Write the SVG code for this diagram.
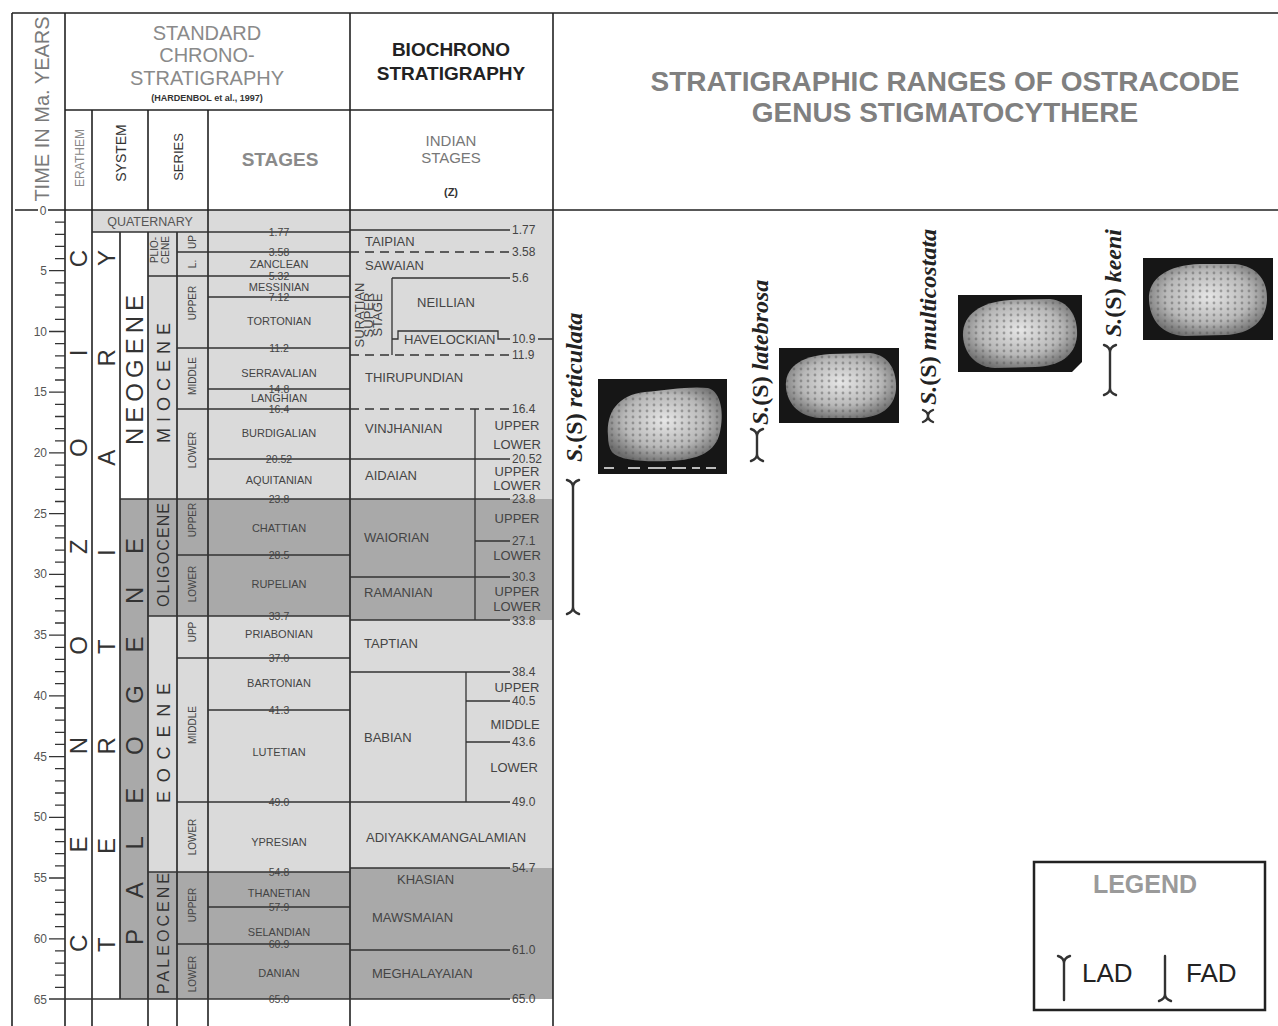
<svg xmlns="http://www.w3.org/2000/svg" width="1278" height="1026" viewBox="0 0 1278 1026">
<defs>
<style>
.ln{stroke:#333;stroke-width:1.3;fill:none}
.bd{stroke:#222;stroke-width:1.6;fill:none}
.dsh{stroke:#333;stroke-width:1.4;fill:none;stroke-dasharray:9 6}
.num{font-family:"Liberation Sans",Arial,sans-serif;font-size:10.5px;fill:#444;text-anchor:middle}
.inum{font-family:"Liberation Sans",Arial,sans-serif;font-size:12px;fill:#444}
.tnum{font-family:"Liberation Sans",Arial,sans-serif;font-size:12px;fill:#555;text-anchor:end}
.stg{font-family:"Liberation Sans",Arial,sans-serif;font-size:11px;fill:#444;text-anchor:middle}
.ind{font-family:"Liberation Sans",Arial,sans-serif;font-size:13px;fill:#444}
.sub{font-family:"Liberation Sans",Arial,sans-serif;font-size:13px;fill:#444;text-anchor:middle}
.ser{font-family:"Liberation Sans",Arial,sans-serif;font-size:10px;fill:#444;text-anchor:middle}
.big{font-family:"Liberation Sans",Arial,sans-serif;font-size:24px;fill:#333}
.mid{font-family:"Liberation Sans",Arial,sans-serif;fill:#333}
.hdr{font-family:"Liberation Sans",Arial,sans-serif;text-anchor:middle}
.sp{font-family:"Liberation Serif","Times New Roman",serif;font-size:24px;font-weight:bold;font-style:italic;fill:#222}
.rng{stroke:#333;stroke-width:2.4;fill:none;stroke-linecap:round}
.light{fill:#dadada}
.dark{fill:#a9a9a9}
.photo{fill:#161616}
.shell{fill:url(#shellG)}
.pits{fill:url(#pits)}
</style>
<radialGradient id="shellG" cx="0.5" cy="0.45" r="0.6">
<stop offset="0" stop-color="#e6e6e6"/>
<stop offset="0.6" stop-color="#b8b8b8"/>
<stop offset="1" stop-color="#6a6a6a"/>
</radialGradient>
<pattern id="pits" width="7" height="6" patternUnits="userSpaceOnUse">
<circle cx="3" cy="3" r="1.4" fill="#555" fill-opacity="0.45"/>
</pattern>
</defs>
<rect width="1278" height="1026" fill="#fff"/>

<g id="fills">
<rect class="light" x="92" y="210" width="56" height="22"/>
<rect class="light" x="148" y="210" width="405" height="289"/>
<rect class="dark" x="148" y="499" width="202" height="117"/>
<rect class="dark" x="350" y="499" width="203" height="121"/>
<rect class="light" x="148" y="616" width="202" height="256"/>
<rect class="light" x="350" y="620" width="203" height="248"/>
<rect class="dark" x="148" y="872" width="202" height="127"/>
<rect class="dark" x="350" y="868" width="203" height="131"/>
<rect class="dark" x="120" y="499" width="28" height="500"/>
</g>

<g id="frame">
<path class="bd" d="M12 13H1278M12 13V1026M65 13V1026M350 13V1026M553 13V1026M65 110H553M92 110V1026M148 110V210M148 232V1026M208 110V1026M177 232V1026M120 232V999M15 210H38M48 210H1278"/>
</g>

<g id="header">
<text class="hdr" transform="translate(49,109) rotate(-90)" font-size="20" fill="#7a7a7a">TIME IN Ma. YEARS</text>
<text class="hdr" x="207" y="40" font-size="20" fill="#8a8a8a">STANDARD</text>
<text class="hdr" x="207" y="62" font-size="20" fill="#8a8a8a">CHRONO-</text>
<text class="hdr" x="207" y="85" font-size="20" fill="#8a8a8a">STRATIGRAPHY</text>
<text class="hdr" x="207" y="101" font-size="9" font-weight="bold" fill="#333">(HARDENBOL et al., 1997)</text>
<text class="hdr" x="451" y="56" font-size="19" font-weight="bold" fill="#222">BIOCHRONO</text>
<text class="hdr" x="451" y="80" font-size="19" font-weight="bold" fill="#222">STRATIGRAPHY</text>
<text class="hdr" transform="translate(83.5,158) rotate(-90)" font-size="12" fill="#888">ERATHEM</text>
<text class="hdr" transform="translate(126,153) rotate(-90)" font-size="14" fill="#333">SYSTEM</text>
<text class="hdr" transform="translate(183,157) rotate(-90)" font-size="13" fill="#333">SERIES</text>
<text class="hdr" x="280" y="166" font-size="19" font-weight="bold" fill="#8a8a8a">STAGES</text>
<text class="hdr" x="451" y="146" font-size="15" fill="#777">INDIAN</text>
<text class="hdr" x="451" y="163" font-size="15" fill="#777">STAGES</text>
<text class="hdr" x="451" y="196" font-size="11" font-weight="bold" fill="#333">(Z)</text>
<text class="hdr" x="945" y="91" font-size="28" font-weight="bold" fill="#808080">STRATIGRAPHIC RANGES OF OSTRACODE</text>
<text class="hdr" x="945" y="122" font-size="28" font-weight="bold" fill="#808080">GENUS STIGMATOCYTHERE</text>
</g>

<g id="time-axis">
<path class="ln" d="M55 222.2H65M55 234.3H65M55 246.4H65M55 258.6H65M55 282.9H65M55 295H65M55 307.2H65M55 319.3H65M55 343.6H65M55 355.8H65M55 367.9H65M55 380H65M55 404.3H65M55 416.5H65M55 428.6H65M55 440.8H65M55 465.1H65M55 477.2H65M55 489.4H65M55 501.5H65M55 525.8H65M55 537.9H65M55 550.1H65M55 562.2H65M55 586.5H65M55 598.7H65M55 610.8H65M55 623H65M55 647.3H65M55 659.4H65M55 671.6H65M55 683.7H65M55 708H65M55 720.1H65M55 732.3H65M55 744.4H65M55 768.7H65M55 780.9H65M55 793H65M55 805.2H65M55 829.5H65M55 841.6H65M55 853.7H65M55 865.9H65M55 890.2H65M55 902.3H65M55 914.5H65M55 926.6H65M55 950.9H65M55 963.1H65M55 975.2H65M55 987.3H65"/>
<path class="ln" d="M49 270.7H65M49 331.5H65M49 392.2H65M49 452.9H65M49 513.7H65M49 574.4H65M49 635.1H65M49 695.8H65M49 756.6H65M49 817.3H65M49 878H65M49 938.8H65"/>
<text class="tnum" x="43" y="214.5" style="text-anchor:middle">0</text>
<text class="tnum" x="47" y="274.7">5</text>
<text class="tnum" x="47" y="335.5">10</text>
<text class="tnum" x="47" y="396.2">15</text>
<text class="tnum" x="47" y="456.9">20</text>
<text class="tnum" x="47" y="517.7">25</text>
<text class="tnum" x="47" y="578.4">30</text>
<text class="tnum" x="47" y="639.1">35</text>
<text class="tnum" x="47" y="699.8">40</text>
<text class="tnum" x="47" y="760.6">45</text>
<text class="tnum" x="47" y="821.3">50</text>
<text class="tnum" x="47" y="882">55</text>
<text class="tnum" x="47" y="942.8">60</text>
<text class="tnum" x="47" y="1003.5">65</text>
</g>

<g id="erathem-system">
<text class="big" transform="translate(87,952) rotate(-90)" textLength="702" lengthAdjust="spacing">CENOZOIC</text>
<text class="big" transform="translate(115,952) rotate(-90)" textLength="702" lengthAdjust="spacing">TERTIARY</text>
<text class="hdr" x="150" y="226" font-size="12.5" fill="#555">QUATERNARY</text>
<text class="big" transform="translate(143,445) rotate(-90)" textLength="150" lengthAdjust="spacing">NEOGENE</text>
<text class="big" transform="translate(143,945) rotate(-90)" textLength="407" lengthAdjust="spacing">PALEOGENE</text>
</g>

<g id="series">
<text class="ser" transform="translate(157.6,250) rotate(-90)">PLIO-</text>
<text class="ser" transform="translate(168.6,250) rotate(-90)">CENE</text>
<text class="mid" font-size="18" transform="translate(169.5,443) rotate(-90)" textLength="120" lengthAdjust="spacing">MIOCENE</text>
<text class="mid" font-size="16" transform="translate(168.7,607) rotate(-90)" textLength="104" lengthAdjust="spacing">OLIGOCENE</text>
<text class="mid" font-size="18" transform="translate(169.5,803) rotate(-90)" textLength="120" lengthAdjust="spacing">EOCENE</text>
<text class="mid" font-size="16" transform="translate(168.7,994) rotate(-90)" textLength="121" lengthAdjust="spacing">PALEOCENE</text>
<text class="ser" transform="translate(196,242) rotate(-90)">UP</text>
<text class="ser" transform="translate(196,264) rotate(-90)">L.</text>
<text class="ser" transform="translate(196,303) rotate(-90)">UPPER</text>
<text class="ser" transform="translate(196,376) rotate(-90)">MIDDLE</text>
<text class="ser" transform="translate(196,450) rotate(-90)">LOWER</text>
<text class="ser" transform="translate(196,520) rotate(-90)">UPPER</text>
<text class="ser" transform="translate(196,584) rotate(-90)">LOWER</text>
<text class="ser" transform="translate(196,632) rotate(-90)">UPP</text>
<text class="ser" transform="translate(196,725) rotate(-90)">MIDDLE</text>
<text class="ser" transform="translate(196,837) rotate(-90)">LOWER</text>
<text class="ser" transform="translate(196,905) rotate(-90)">UPPER</text>
<text class="ser" transform="translate(196,974) rotate(-90)">LOWER</text>
</g>

<g id="stage-lines">
<path class="ln" d="M92 232H350M177 252H350M148 276H350M208 297H350M177 348H350M208 389H350M177 409H350M208 459H510M120 499H350M177 555H350M148 616H350M177 658H350M208 710H350M177 802H510M148 872H350M208 907H350M177 944H350M49 999H510"/>
<text class="num" x="279" y="235.5">1.77</text>
<text class="num" x="279" y="255.5">3.58</text>
<text class="stg" x="279" y="268">ZANCLEAN</text>
<text class="num" x="279" y="279.5">5.32</text>
<text class="stg" x="279" y="291">MESSINIAN</text>
<text class="num" x="279" y="300.5">7.12</text>
<text class="stg" x="279" y="325">TORTONIAN</text>
<text class="num" x="279" y="351.5">11.2</text>
<text class="stg" x="279" y="377">SERRAVALIAN</text>
<text class="num" x="279" y="392.5">14.8</text>
<text class="stg" x="279" y="402" font-size="10.5">LANGHIAN</text>
<text class="num" x="279" y="413">16.4</text>
<text class="stg" x="279" y="437">BURDIGALIAN</text>
<text class="num" x="279" y="462.5">20.52</text>
<text class="stg" x="279" y="484">AQUITANIAN</text>
<text class="num" x="279" y="502.5">23.8</text>
<text class="stg" x="279" y="532">CHATTIAN</text>
<text class="num" x="279" y="558.5">28.5</text>
<text class="stg" x="279" y="588">RUPELIAN</text>
<text class="num" x="279" y="619.5">33.7</text>
<text class="stg" x="279" y="638">PRIABONIAN</text>
<text class="num" x="279" y="661.5">37.0</text>
<text class="stg" x="279" y="687">BARTONIAN</text>
<text class="num" x="279" y="713.5">41.3</text>
<text class="stg" x="279" y="756">LUTETIAN</text>
<text class="num" x="279" y="805.5">49.0</text>
<text class="stg" x="279" y="846">YPRESIAN</text>
<text class="num" x="279" y="875.5">54.8</text>
<text class="stg" x="279" y="897">THANETIAN</text>
<text class="num" x="279" y="910.5">57.9</text>
<text class="stg" x="279" y="936">SELANDIAN</text>
<text class="num" x="279" y="947.5">60.9</text>
<text class="stg" x="279" y="977">DANIAN</text>
<text class="num" x="279" y="1002.5">65.0</text>
</g>

<g id="indian-stages">
<path class="ln" d="M350 230H510M392 278H510M392 278V355M392 339H398V331H498V339H510M538 339H553M350 499H510M475 409V620M475 541H510M350 577H510M350 620H510M350 672H510M466 672V802M466 701H510M466 742H510M350 868H510M350 950H510"/>
<path class="dsh" d="M350 252H510M350 355H510M350 409H510"/>
<text class="inum" x="512" y="234">1.77</text>
<text class="inum" x="512" y="256">3.58</text>
<text class="inum" x="512" y="282">5.6</text>
<text class="inum" x="512" y="343">10.9</text>
<text class="inum" x="512" y="359">11.9</text>
<text class="inum" x="512" y="413">16.4</text>
<text class="inum" x="512" y="463">20.52</text>
<text class="inum" x="512" y="503">23.8</text>
<text class="inum" x="512" y="545">27.1</text>
<text class="inum" x="512" y="581">30.3</text>
<text class="inum" x="512" y="625">33.8</text>
<text class="inum" x="512" y="676">38.4</text>
<text class="inum" x="512" y="705">40.5</text>
<text class="inum" x="512" y="746">43.6</text>
<text class="inum" x="512" y="806">49.0</text>
<text class="inum" x="512" y="872">54.7</text>
<text class="inum" x="512" y="954">61.0</text>
<text class="inum" x="512" y="1003">65.0</text>
<text class="ind" x="365" y="246">TAIPIAN</text>
<text class="ind" x="365" y="270">SAWAIAN</text>
<text class="ind" x="417" y="307">NEILLIAN</text>
<text class="ind" x="404" y="344">HAVELOCKIAN</text>
<text class="ind" font-size="10.5" transform="translate(364,315) rotate(-90)" text-anchor="middle">SURATIAN</text>
<text class="ind" font-size="10.5" transform="translate(373,315) rotate(-90)" text-anchor="middle">SUPER</text>
<text class="ind" font-size="10.5" transform="translate(382,315) rotate(-90)" text-anchor="middle">STAGE</text>
<text class="ind" x="365" y="382">THIRUPUNDIAN</text>
<text class="ind" x="365" y="433">VINJHANIAN</text>
<text class="sub" x="517" y="430">UPPER</text>
<text class="sub" x="517" y="449">LOWER</text>
<text class="ind" x="365" y="480">AIDAIAN</text>
<text class="sub" x="517" y="476">UPPER</text>
<text class="sub" x="517" y="490">LOWER</text>
<text class="ind" x="364" y="542">WAIORIAN</text>
<text class="sub" x="517" y="523">UPPER</text>
<text class="sub" x="517" y="560">LOWER</text>
<text class="ind" x="364" y="597">RAMANIAN</text>
<text class="sub" x="517" y="596" font-size="12.5">UPPER</text>
<text class="sub" x="517" y="611" font-size="12.5">LOWER</text>
<text class="ind" x="364" y="648">TAPTIAN</text>
<text class="ind" x="364" y="742">BABIAN</text>
<text class="sub" x="517" y="692">UPPER</text>
<text class="sub" x="515" y="729">MIDDLE</text>
<text class="sub" x="514" y="772">LOWER</text>
<text class="ind" x="366" y="842">ADIYAKKAMANGALAMIAN</text>
<text class="ind" x="397" y="884">KHASIAN</text>
<text class="ind" x="372" y="922">MAWSMAIAN</text>
<text class="ind" x="372" y="978">MEGHALAYAIAN</text>
</g>

<g id="species-reticulata">
<text class="sp" font-size="25" transform="translate(582,462) rotate(-90)">S.<tspan font-style="normal">(S)</tspan> reticulata</text>
<rect class="photo" x="598" y="379" width="129" height="95"/>
<path class="shell" d="M608 436C606 412 618 395 645 392C665 390 690 386 708 388C722 392 724 415 720 432C716 452 698 460 670 461C645 462 620 461 612 452C609 448 608 442 608 436Z"/>
<path class="pits" d="M608 436C606 412 618 395 645 392C665 390 690 386 708 388C722 392 724 415 720 432C716 452 698 460 670 461C645 462 620 461 612 452C609 448 608 442 608 436Z"/>
<path d="M604 468h10M628 468h12M648 468h18M672 468h14M692 468h8M706 468h10" stroke="#bbb" stroke-width="2"/>
</g>
<g id="species-latebrosa">
<text class="sp" transform="translate(768,425) rotate(-90)">S.<tspan font-style="normal">(S)</tspan> latebrosa</text>
<rect class="photo" x="779" y="348" width="120" height="75"/>
<path class="shell" d="M786 388C784 368 800 356 830 354L870 353C890 355 897 372 896 390C894 408 880 417 860 418L820 418C800 417 788 405 786 388Z"/>
<path class="pits" d="M786 388C784 368 800 356 830 354L870 353C890 355 897 372 896 390C894 408 880 417 860 418L820 418C800 417 788 405 786 388Z"/>
</g>
<g id="species-multicostata">
<text class="sp" transform="translate(936,405) rotate(-90)">S.<tspan font-style="normal">(S)</tspan> multicostata</text>
<path class="photo" d="M958 295H1082V362L1072 372H958Z"/>
<path class="shell" d="M963 336C962 315 980 302 1010 300L1050 299C1070 301 1078 318 1077 336C1075 356 1060 366 1035 367L995 368C975 367 964 353 963 336Z"/>
<path class="pits" d="M963 336C962 315 980 302 1010 300L1050 299C1070 301 1078 318 1077 336C1075 356 1060 366 1035 367L995 368C975 367 964 353 963 336Z"/>
</g>
<g id="species-keeni">
<text class="sp" transform="translate(1121,337) rotate(-90)">S.<tspan font-style="normal">(S)</tspan> keeni</text>
<rect class="photo" x="1143" y="258" width="130" height="82"/>
<path class="shell" d="M1149 300C1148 278 1168 265 1200 264L1235 264C1258 266 1268 282 1267 300C1266 320 1252 334 1225 335L1185 336C1162 335 1150 320 1149 300Z"/>
<path class="pits" d="M1149 300C1148 278 1168 265 1200 264L1235 264C1258 266 1268 282 1267 300C1266 320 1252 334 1225 335L1185 336C1162 335 1150 320 1149 300Z"/>
</g>

<g id="ranges">
<path class="rng" d="M567 480Q573 482 573 487Q573 482 579 480M573 486V608M567 614Q573 612 573 607Q573 612 579 614"/>
<path class="rng" d="M751 429Q757 431 757 436Q757 431 763 429M757 435V455M751 461Q757 459 757 454Q757 459 763 461"/>
<path class="rng" d="M923 410Q928 412 928 416Q928 412 933 410M923 422Q928 420 928 416Q928 420 933 422"/>
<path class="rng" d="M1104 345Q1110 347 1110 352Q1110 347 1116 345M1110 351V389M1104 395Q1110 393 1110 388Q1110 393 1116 395"/>
</g>

<g id="legend">
<rect x="1034" y="862" width="231" height="148" fill="#fff" stroke="#222" stroke-width="2.5"/>
<text class="hdr" x="1145" y="893" font-size="25" font-weight="bold" fill="#9a9a9a">LEGEND</text>
<path class="rng" d="M1058 956Q1064 958 1064 963Q1064 958 1070 956M1064 962V1000"/>
<text x="1082" y="982" font-family="Liberation Sans, Arial, sans-serif" font-size="26" fill="#222">LAD</text>
<path class="rng" d="M1165 956V994M1159 1001Q1165 999 1165 994Q1165 999 1171 1001"/>
<text x="1186" y="982" font-family="Liberation Sans, Arial, sans-serif" font-size="26" fill="#222">FAD</text>
</g>
</svg>
